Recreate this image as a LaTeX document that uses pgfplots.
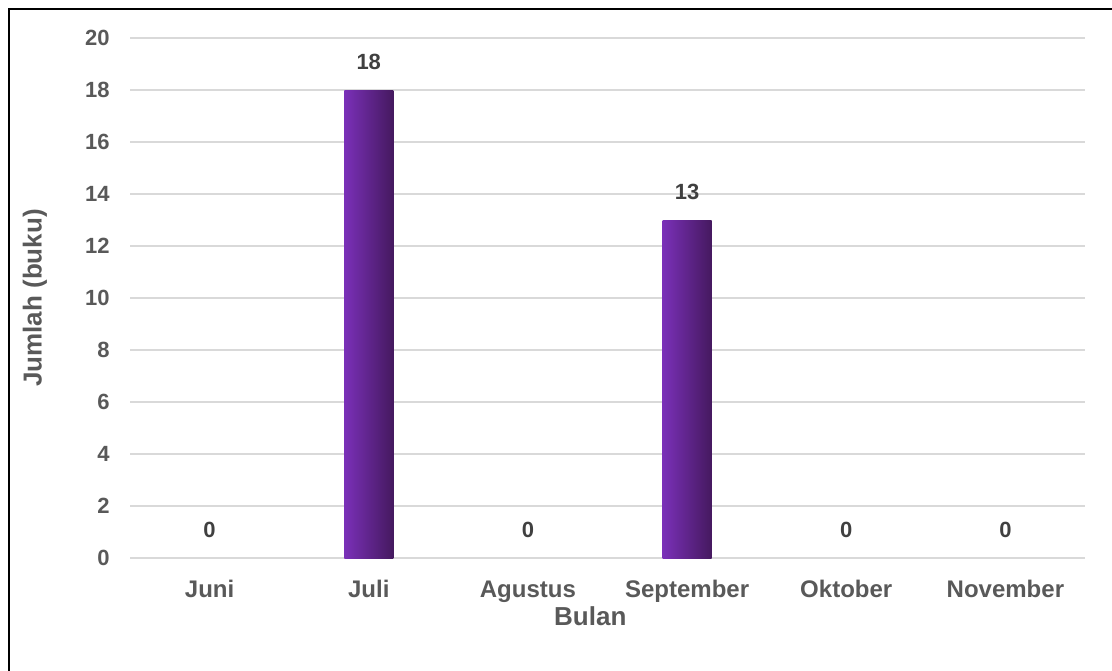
\documentclass[border=0pt]{standalone}
\usepackage{pgfplots}
\pgfplotsset{compat=1.18}
\usepackage{fontspec}
\setmainfont{Liberation Sans}
\definecolor{txt}{HTML}{595959}
\definecolor{valtxt}{HTML}{404040}
\definecolor{barL}{HTML}{7A30B8}
\definecolor{barR}{HTML}{45195F}
\definecolor{gridc}{HTML}{D9D9D9}
\begin{document}
\begin{tikzpicture}
\useasboundingbox (0,0) rectangle (556pt,335pt);
\draw[black, line width=1pt] (4.5pt,-20pt) rectangle (580pt,330.5pt);
\begin{axis}[
  at={(65pt,56pt)}, anchor=south west,
  scale only axis,
  width=477.5pt, height=260pt,
  ybar, bar width=24.5pt, bar shift=0pt,
  xmin=-0.5, xmax=5.5,
  ymin=0, ymax=20,
  ytick={0,2,...,20},
  xtick={0,...,5},
  xticklabels={Juni,Juli,Agustus,September,Oktober,November},
  axis line style={draw=none},
  major tick length=0pt,
  ymajorgrids,
  grid style={draw=gridc, line width=0.6pt},
  /pgf/number format/assume math mode=true,
  yticklabel style={font=\fontsize{11}{13}\selectfont\bfseries, text=txt, anchor=east, inner sep=0pt, xshift=-10pt},
  xticklabel style={font=\fontsize{12}{14}\selectfont\bfseries, text=txt, anchor=base, inner sep=0pt, yshift=-19.5pt},
  xlabel={Bulan},
  ylabel={Jumlah (buku)},
  xlabel style={font=\fontsize{13}{15}\selectfont\bfseries, text=txt, at={(axis description cs:0.482,0)}, anchor=base, inner sep=0pt, yshift=-33.5pt},
  ylabel style={font=\fontsize{13}{15}\selectfont\bfseries, text=txt, at={(axis description cs:-0.0995,0.5)}, anchor=center},
  nodes near coords,
  every node near coord/.append style={font=\fontsize{11}{13}\selectfont\bfseries, text=valtxt, anchor=base, inner sep=0pt, yshift=10.5pt},
]
% Juli
\addplot[draw=none, left color=barL, right color=barR] coordinates {(1,18)};
% September
\addplot[draw=none, left color=barL, right color=barR] coordinates {(3,13)};
% months with no books
\addplot[draw=none, fill=none] coordinates {(0,0) (2,0) (4,0) (5,0)};
\end{axis}
\end{tikzpicture}
\end{document}
